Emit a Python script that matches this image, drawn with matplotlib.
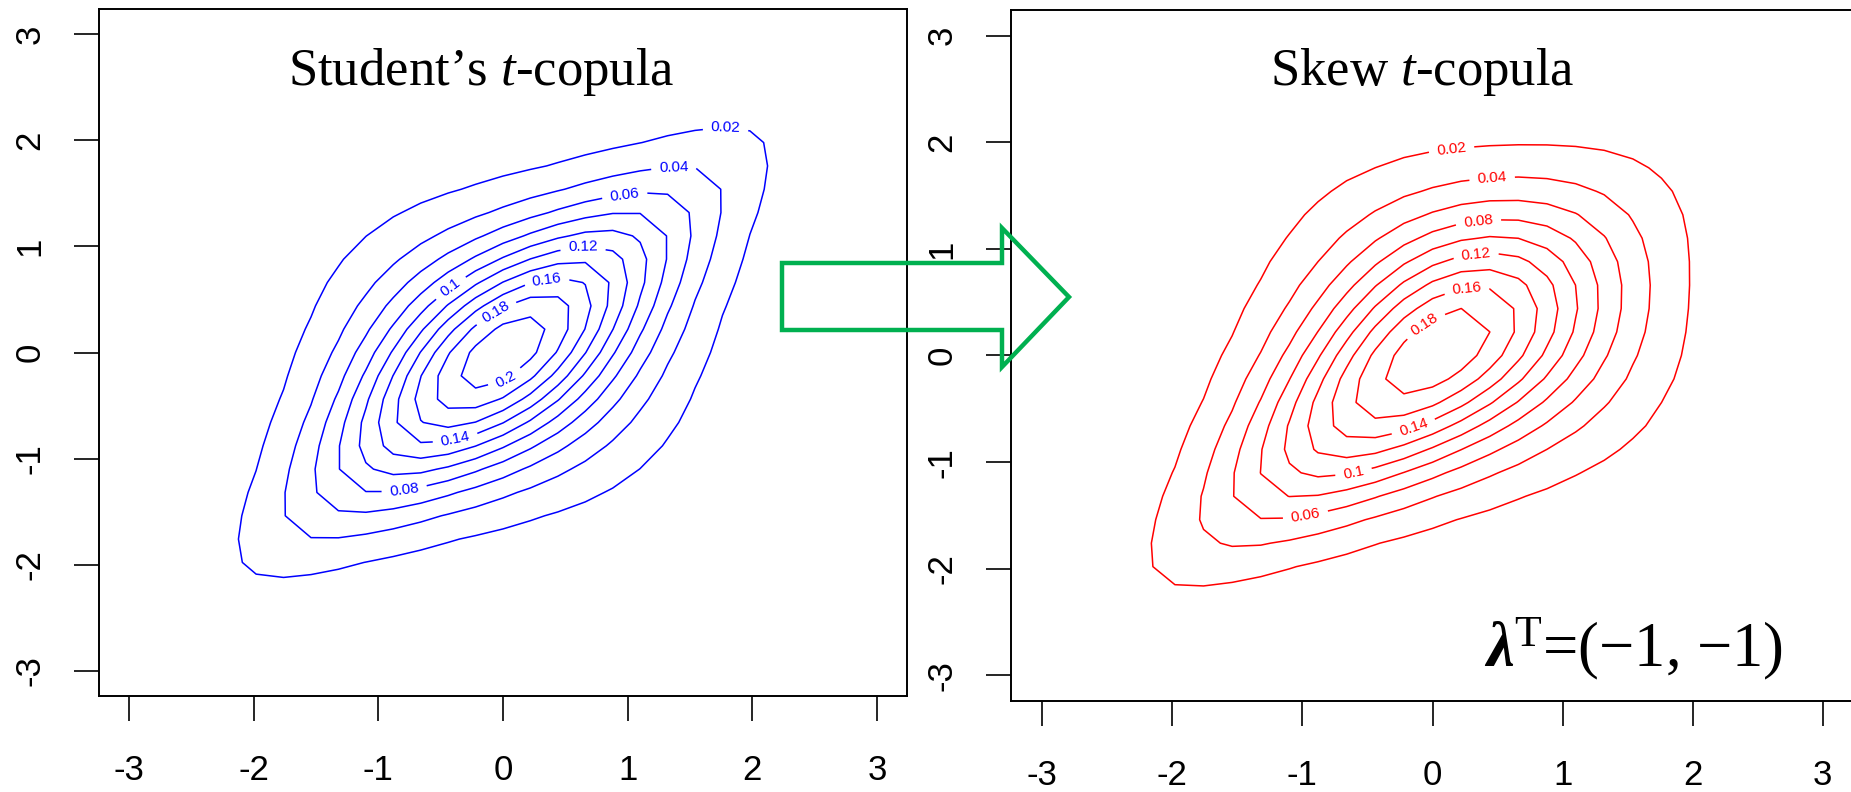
import math

import matplotlib
matplotlib.use("Agg")
import matplotlib.pyplot as plt
import numpy as np
from matplotlib.patches import Polygon


# density model parameters (chosen to match the pictured contours)
T_RHO = 0.5
T_DF = 3.0
T_ALPHA = [0.0, 0.0]
SKEW_RHO = 0.62
SKEW_DF = 4.0
SKEW_ALPHA = [-0.8, -0.8]

T_LEVELS = [0.02, 0.04, 0.06, 0.08, 0.10, 0.12, 0.14, 0.16, 0.18, 0.20]
SKEW_LEVELS = [0.02, 0.04, 0.06, 0.08, 0.10, 0.12, 0.14, 0.16, 0.18]

# where the contour labels sit (data coordinates)
T_LABEL_SPOTS = [(1.78, 2.07), (1.37, 1.69), (0.98, 1.45), (-0.42, 0.61), (0.65, 0.93),
                 (0.36, 0.64), (-0.03, 0.33), (0.02, -0.25), (-0.38, -0.83), (-0.79, -1.31)]
SKEW_LABEL_SPOTS = [(0.15, 1.90), (0.46, 1.59), (0.36, 1.19), (0.34, 0.89), (0.26, 0.53),
                    (0.0, 0.19), (-0.15, -0.66), (-0.61, -1.08), (-0.98, -1.47)]

TICKS = [-3, -2, -1, 0, 1, 2, 3]
TICK_LABELS = ["-3", "-2", "-1", "0", "1", "2", "3"]
TITLES = ["Student\u2019s $t$-copula", "Skew $t$-copula"]
LAMBDA_TEXT = r"$\mathbf{\lambda}^{\mathrm{T}}$" + "=(\u22121, \u22121)"

GRID = np.linspace(-3.3, 3.3, 31)

plt.rcParams["font.family"] = ["Liberation Sans", "DejaVu Sans"]
plt.rcParams["mathtext.fontset"] = "custom"
plt.rcParams["mathtext.rm"] = "Liberation Serif"
plt.rcParams["mathtext.it"] = "Liberation Serif:italic"
plt.rcParams["mathtext.bf"] = "Liberation Serif:bold:italic"

_erf = np.vectorize(math.erf)
_tables = {}


def norm_pdf(x):
    return np.exp(-0.5 * x * x) / math.sqrt(2 * math.pi)


def norm_cdf(x):
    return 0.5 * (1 + _erf(x / math.sqrt(2)))


def t_pdf(x, df):
    c = math.exp(math.lgamma((df + 1) / 2) - math.lgamma(df / 2)) / math.sqrt(df * math.pi)
    return c * (1 + x * x / df) ** (-(df + 1) / 2)


def cdf_table(key, pdf):
    if key not in _tables:
        s = np.linspace(-80, 80, 320001)
        p = pdf(s)
        c = np.concatenate([[0.0], np.cumsum((p[1:] + p[:-1]) / 2 * np.diff(s))])
        _tables[key] = (s, c / c[-1])
    return _tables[key]


def t_cdf(x, df):
    s, c = cdf_table(("t", df), lambda v: t_pdf(v, df))
    return np.interp(x, s, c)


def skew_t1_pdf(z, df, a):
    w = a * z * np.sqrt((df + 1) / (z * z + df))
    return 2 * t_pdf(z, df) * t_cdf(w, df + 1)


def skew_t1_quantile(u, df, a):
    s, c = cdf_table(("st", df, a), lambda v: skew_t1_pdf(v, df, a))
    return np.interp(u, c, s)


def skew_t2_pdf(z1, z2, rho, df, alpha):
    det = 1 - rho ** 2
    q = (z1 * z1 - 2 * rho * z1 * z2 + z2 * z2) / det
    c = math.exp(math.lgamma((df + 2) / 2) - math.lgamma(df / 2)) / (df * math.pi * math.sqrt(det))
    dens = c * (1 + q / df) ** (-(df + 2) / 2)
    w = (alpha[0] * z1 + alpha[1] * z2) * np.sqrt((df + 2) / (q + df))
    return 2 * dens * t_cdf(w, df + 2)


def copula_density(rho, df, alpha):
    x, y = np.meshgrid(GRID, GRID)
    a1 = (alpha[0] + rho * alpha[1]) / math.sqrt(1 + alpha[1] ** 2 * (1 - rho ** 2))
    a2 = (alpha[1] + rho * alpha[0]) / math.sqrt(1 + alpha[0] ** 2 * (1 - rho ** 2))
    q1 = skew_t1_quantile(norm_cdf(x), df, a1)
    q2 = skew_t1_quantile(norm_cdf(y), df, a2)
    cop = skew_t2_pdf(q1, q2, rho, df, alpha) / (skew_t1_pdf(q1, df, a1) * skew_t1_pdf(q2, df, a2))
    return x, y, cop * norm_pdf(x) * norm_pdf(y)


W, H = 1851, 792
fig = plt.figure(figsize=(W / 100, H / 100), dpi=100)


def add_axes_px(left, top, right, bottom):
    return fig.add_axes([left / W, 1 - bottom / H, (right - left) / W, (bottom - top) / H])


ax1 = add_axes_px(99, 9, 907, 696)
ax2 = add_axes_px(1011, 10, 1854, 701)

panels = [
    (ax1, T_RHO, T_DF, T_ALPHA, T_LEVELS, T_LABEL_SPOTS, "#0000ff", (0.473, 0.889)),
    (ax2, SKEW_RHO, SKEW_DF, SKEW_ALPHA, SKEW_LEVELS, SKEW_LABEL_SPOTS, "#ff0000", (0.488, 0.891)),
]

for (ax, rho, df, alpha, levels, spots, color, tpos), title in zip(panels, TITLES):
    x, y, z = copula_density(rho, df, alpha)
    ax.set_xlim(-3.24, 3.24)
    ax.set_ylim(-3.24, 3.24)
    cs = ax.contour(x, y, z, levels=levels, colors=color, linewidths=1.1)
    ax.clabel(cs, fmt="%g", fontsize=11, inline=True, inline_spacing=8, manual=spots)
    ax.set_xticks(TICKS, TICK_LABELS)
    ax.set_yticks(TICKS, TICK_LABELS)
    for lab in ax.get_yticklabels():
        lab.set_rotation(90)
        lab.set_va("center")
    ax.tick_params(axis="both", length=18, width=1.2, labelsize=25)
    ax.tick_params(axis="x", pad=24)
    ax.tick_params(axis="y", pad=20)
    for sp in ax.spines.values():
        sp.set_linewidth(1.4)
    ax.text(tpos[0], tpos[1], title, transform=ax.transAxes, ha="center", va="baseline",
            fontsize=38, family="Liberation Serif")

ax2.text(0.738, 0.05, LAMBDA_TEXT, transform=ax2.transAxes, ha="center", va="baseline",
         fontsize=45, family="Liberation Serif")

# hollow green arrow linking the panels
arrow_px = [(782, 263), (1002, 263), (1002, 228), (1069, 297), (1002, 367), (1002, 330), (782, 330)]
arrow = Polygon([(px / W, 1 - py / H) for px, py in arrow_px], closed=True, fill=False,
                edgecolor="#00b050", linewidth=3.2, joinstyle="miter",
                transform=fig.transFigure, zorder=10)
fig.patches.append(arrow)

fig.savefig("out.png", dpi=100)
